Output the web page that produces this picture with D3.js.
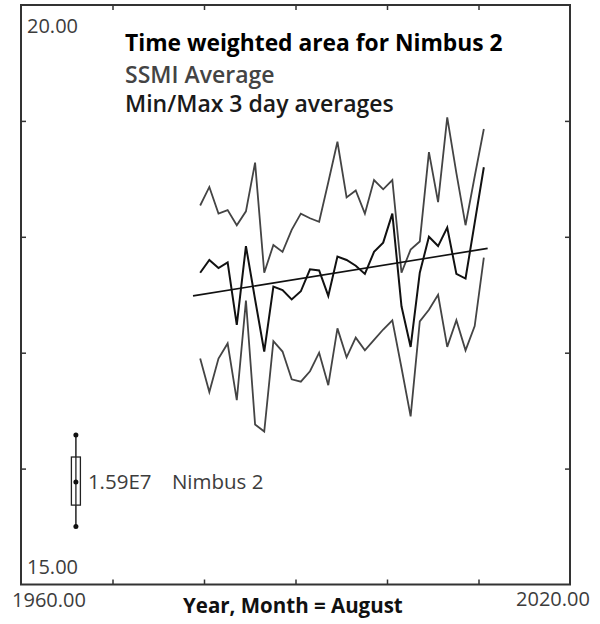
<!DOCTYPE html>
<html>
<head>
<meta charset="utf-8">
<script src="https://cdn.jsdelivr.net/npm/d3@7"></script>
<style>
  body { margin: 0; background: #fff; }
  svg { display: block; font-family: "Open Sans", "Noto Sans", sans-serif; }
  .tick text { display: none; }
  .tick line { stroke: #333; stroke-width: 1.5; }
  .domain { display: none; }
</style>
</head>
<body>
<svg width="600" height="624"></svg>
<script>
// data (August of each year)
var years = d3.range(1979, 2011);
var maxValues = [18.27, 18.43, 18.20, 18.23, 18.10, 18.22, 18.64, 17.69, 17.93, 17.87,
  18.06, 18.20, 18.16, 18.13, 18.47, 18.82, 18.34, 18.40, 18.20, 18.49,
  18.41, 18.49, 17.69, 17.89, 17.96, 18.73, 18.30, 19.03, 18.55, 18.10,
  18.52, 18.93];
var avgValues = [17.69, 17.80, 17.73, 17.78, 17.24, 17.92, 17.46, 17.01, 17.57, 17.54,
  17.46, 17.53, 17.72, 17.71, 17.49, 17.83, 17.80, 17.75, 17.68, 17.87,
  17.95, 18.20, 17.40, 17.05, 17.69, 18.00, 17.92, 18.08, 17.68, 17.64,
  18.12, 18.60];
var minValues = [16.95, 16.66, 16.95, 17.08, 16.59, 17.45, 16.38, 16.32, 17.10, 17.01,
  16.77, 16.75, 16.84, 17.00, 16.72, 17.21, 16.96, 17.13, 17.02, 17.11,
  17.20, 17.28, 16.87, 16.45, 17.27, 17.37, 17.50, 17.05, 17.28, 17.02,
  17.23, 17.82];
var trendYears = [1978.8, 2011.0];
var trendValues = [17.49, 17.90];

// summary box (whisker low, box low, median, box high, whisker high)
var boxYear = 1966;
var boxValues = [15.50, 15.685, 15.885, 16.10, 16.29];
var boxLabel = "1.59E7";
var boxName = "Nimbus 2";

var xTicks = [1970, 1980, 1990, 2000, 2010];
var yTicks = [16, 17, 18, 19];
var xDomain = [1960, 2020];
var yDomain = [15, 20];
var titleLines = ["Time weighted area for Nimbus 2", "SSMI Average", "Min/Max 3 day averages"];
var xAxisLabel = "Year, Month = August";

var svg = d3.select("svg");
var margin = { top: 5, right: 30, bottom: 39.5, left: 21 };
var width = +svg.attr("width");
var height = +svg.attr("height");
var innerWidth = width - margin.left - margin.right;
var innerHeight = height - margin.top - margin.bottom;
var monthOffset = 7 / 12;

var xScale = d3.scaleLinear().domain(xDomain).range([0, innerWidth]);
var yScale = d3.scaleLinear().domain(yDomain).range([innerHeight, 0]);

var g = svg.append("g")
  .attr("transform", "translate(" + margin.left + "," + margin.top + ")");

// inward ticks on all four sides
g.append("g").attr("transform", "translate(0," + innerHeight + ")")
  .call(d3.axisBottom(xScale).tickValues(xTicks).tickSize(-5));
g.append("g")
  .call(d3.axisTop(xScale).tickValues(xTicks).tickSize(-5));
g.append("g")
  .call(d3.axisLeft(yScale).tickValues(yTicks).tickSize(-5));
g.append("g").attr("transform", "translate(" + innerWidth + ",0)")
  .call(d3.axisRight(yScale).tickValues(yTicks).tickSize(-5));

// frame
g.append("rect")
  .attr("width", innerWidth)
  .attr("height", innerHeight)
  .attr("fill", "none")
  .attr("stroke", "#333")
  .attr("stroke-width", 2);

// end labels
var labelColor = "#3c3c3c";
var labelSize = 20;
g.append("text").text(d3.format(".2f")(yDomain[1]))
  .attr("x", 6).attr("y", yScale(yDomain[1]) + 28)
  .attr("font-size", labelSize).attr("fill", labelColor);
g.append("text").text(d3.format(".2f")(yDomain[0]))
  .attr("x", 6).attr("y", yScale(yDomain[0]) - 11)
  .attr("font-size", labelSize).attr("fill", labelColor);
g.append("text").text(d3.format(".2f")(xDomain[0]))
  .attr("x", xScale(xDomain[0]) + 28).attr("y", innerHeight + 22)
  .attr("text-anchor", "middle")
  .attr("font-size", labelSize).attr("fill", labelColor);
g.append("text").text(d3.format(".2f")(xDomain[1]))
  .attr("x", xScale(xDomain[1]) - 17).attr("y", innerHeight + 21)
  .attr("text-anchor", "middle")
  .attr("font-size", labelSize).attr("fill", labelColor);

// x axis label
g.append("text").text(xAxisLabel)
  .attr("x", 162).attr("y", innerHeight + 28)
  .attr("font-size", 20.5).attr("font-weight", "bold").attr("fill", "#111");

// title block
var titleStyles = [
  { size: 22.8, weight: "bold", color: "#000" },
  { size: 23, weight: 600, color: "#444" },
  { size: 23, weight: 600, color: "#1a1a1a" }
];
var titleBaselines = [46, 78, 107];
titleLines.forEach(function (t, i) {
  g.append("text").text(t)
    .attr("x", 104).attr("y", titleBaselines[i])
    .attr("font-size", titleStyles[i].size)
    .attr("font-weight", titleStyles[i].weight)
    .attr("fill", titleStyles[i].color);
});

// series lines
var line = function (values) {
  return d3.line()
    .x(function (d, i) { return xScale(years[i] + monthOffset); })
    .y(function (d) { return yScale(d); })(values);
};

g.append("path").attr("d", line(maxValues))
  .attr("fill", "none").attr("stroke", "#444").attr("stroke-width", 1.8);
g.append("path").attr("d", line(minValues))
  .attr("fill", "none").attr("stroke", "#444").attr("stroke-width", 1.8);
g.append("path").attr("d", line(avgValues))
  .attr("fill", "none").attr("stroke", "#111").attr("stroke-width", 2);

// trend
g.append("path")
  .attr("d", d3.line()
    .x(function (d) { return xScale(d); })
    .y(function (d, i) { return yScale(trendValues[i]); })(trendYears))
  .attr("fill", "none").attr("stroke", "#111").attr("stroke-width", 1.6);

// summary box
var bx = xScale(boxYear);
var box = g.append("g");
box.append("line")
  .attr("x1", bx).attr("x2", bx)
  .attr("y1", yScale(boxValues[0])).attr("y2", yScale(boxValues[4]))
  .attr("stroke", "#222").attr("stroke-width", 1.5);
box.append("rect")
  .attr("x", bx - 4.5).attr("width", 9)
  .attr("y", yScale(boxValues[3]))
  .attr("height", yScale(boxValues[1]) - yScale(boxValues[3]))
  .attr("fill", "#fff").attr("stroke", "#222").attr("stroke-width", 1.3);
box.append("line")
  .attr("x1", bx).attr("x2", bx)
  .attr("y1", yScale(boxValues[3])).attr("y2", yScale(boxValues[1]))
  .attr("stroke", "#222").attr("stroke-width", 1.3);
box.selectAll("circle")
  .data([boxValues[0], boxValues[2], boxValues[4]])
  .enter()
  .append("circle")
  .attr("cx", bx)
  .attr("cy", function (d) { return yScale(d); })
  .attr("r", 2.5)
  .attr("fill", "#111");

box.append("text").text(boxLabel)
  .attr("x", bx + 12).attr("y", yScale(boxValues[2]) + 7)
  .attr("font-size", 20.5).attr("fill", labelColor);
box.append("text").text(boxName)
  .attr("x", bx + 96).attr("y", yScale(boxValues[2]) + 7)
  .attr("font-size", 20.5).attr("fill", labelColor);
</script>
</body>
</html>
